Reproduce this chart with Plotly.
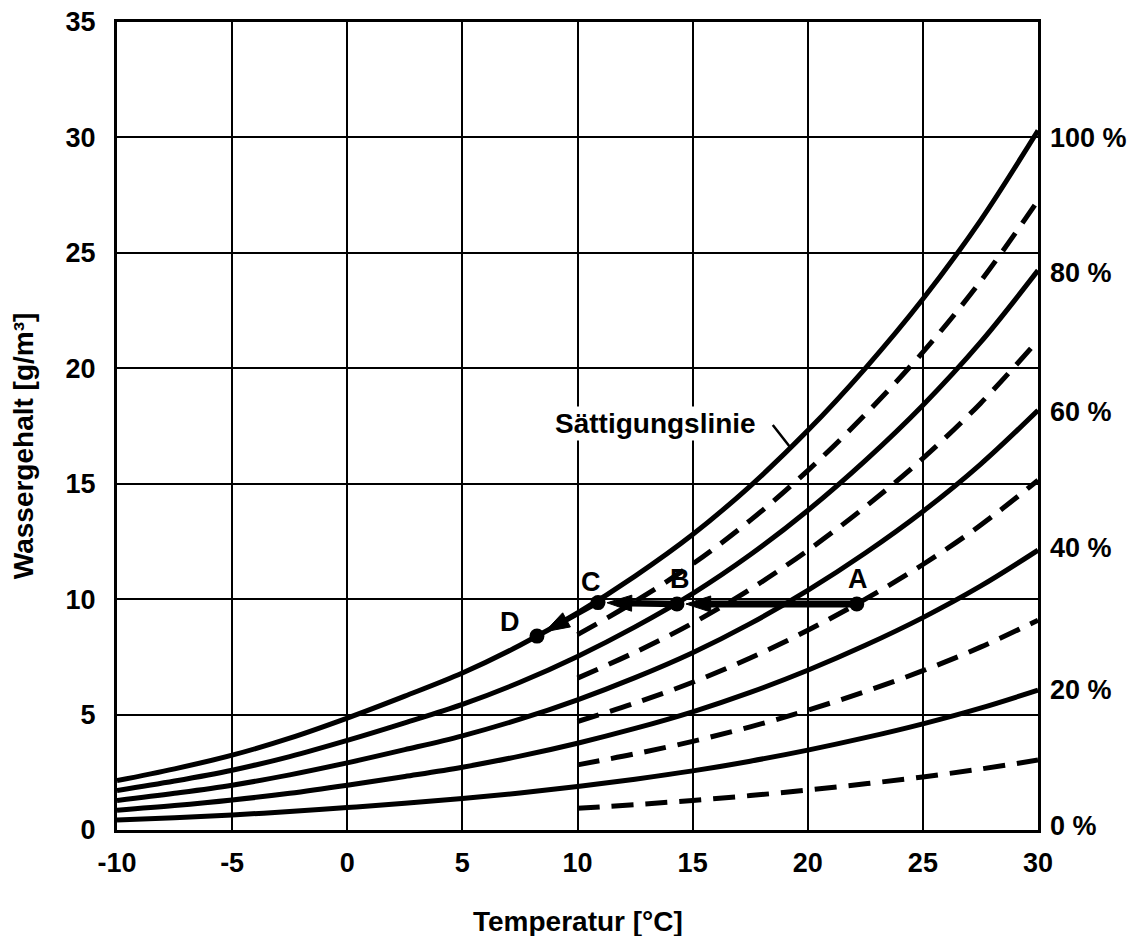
import plotly.graph_objects as go

temps_full = [-10, -7.5, -5, -2.5, 0, 2.5, 5, 7.5, 10, 12.5, 15, 17.5, 20, 22.5, 25, 27.5, 30]
temps_half = [10, 12.5, 15, 17.5, 20, 22.5, 25, 27.5, 30]

rh100 = [2.14, 2.65, 3.24, 3.98, 4.85, 5.80, 6.80, 8.00, 9.40, 11.0, 12.8, 14.9, 17.3, 20.0, 23.0, 26.4, 30.3]
rh80 = [1.71, 2.12, 2.59, 3.18, 3.88, 4.64, 5.44, 6.40, 7.52, 8.80, 10.24, 11.92, 13.84, 16.0, 18.4, 21.12, 24.24]
rh60 = [1.28, 1.59, 1.94, 2.39, 2.91, 3.48, 4.08, 4.80, 5.64, 6.60, 7.68, 8.94, 10.38, 12.0, 13.8, 15.84, 18.18]
rh40 = [0.86, 1.06, 1.30, 1.59, 1.94, 2.32, 2.72, 3.20, 3.76, 4.40, 5.12, 5.96, 6.92, 8.0, 9.2, 10.56, 12.12]
rh20 = [0.43, 0.53, 0.65, 0.80, 0.97, 1.16, 1.36, 1.60, 1.88, 2.20, 2.56, 2.98, 3.46, 4.0, 4.6, 5.28, 6.06]

rh90 = [8.46, 9.90, 11.52, 13.41, 15.57, 18.0, 20.7, 23.76, 27.27]
rh70 = [6.58, 7.70, 8.96, 10.43, 12.11, 14.0, 16.1, 18.48, 21.21]
rh50 = [4.70, 5.50, 6.40, 7.45, 8.65, 10.0, 11.5, 13.2, 15.15]
rh30 = [2.82, 3.30, 3.84, 4.47, 5.19, 6.0, 6.9, 7.92, 9.09]
rh10 = [0.94, 1.10, 1.28, 1.49, 1.73, 2.0, 2.3, 2.64, 3.03]

right_labels = ["100 %", "80 %", "60 %", "40 %", "20 %", "0 %"]
right_label_y = [30.1, 24.25, 18.25, 12.35, 6.2, 0.3]

point_names = ["A", "B", "C", "D"]
point_x = [22.13, 14.32, 10.89, 8.24]
point_y = [9.79, 9.79, 9.85, 8.40]
label_x = [22.18, 14.45, 10.58, 7.07]
label_y = [11.0, 11.0, 10.87, 9.14]

# arrows: from index, to index, line width
arrow_from = [0, 1, 2]
arrow_to = [1, 2, 3]
arrow_width = [7, 6.5, 5]

x_ticks = [-10, -5, 0, 5, 10, 15, 20, 25, 30]
y_ticks = [0, 5, 10, 15, 20, 25, 30, 35]

FONT = "Liberation Sans, Arial, sans-serif"
TICK_SIZE = 27
TITLE_SIZE = 28

fig = go.Figure()

for ys in [rh100, rh80, rh60, rh40, rh20]:
    fig.add_trace(go.Scatter(x=temps_full, y=ys, mode="lines",
                             line=dict(color="black", width=5, shape="spline"),
                             showlegend=False, hoverinfo="skip"))
for ys in [rh90, rh70, rh50, rh30, rh10]:
    fig.add_trace(go.Scatter(x=temps_half, y=ys, mode="lines",
                             line=dict(color="black", width=5, shape="spline", dash="22px,12px"),
                             showlegend=False, hoverinfo="skip"))

for s, e, w in zip(arrow_from, arrow_to, arrow_width):
    fig.add_trace(go.Scatter(x=[point_x[s], point_x[e]], y=[point_y[s], point_y[e]],
                             mode="lines+markers",
                             line=dict(color="black", width=w),
                             marker=dict(symbol=["circle", "arrow"], size=[0, 26],
                                         angleref="previous", standoff=[0, 9],
                                         color="black", opacity=1,
                                         line=dict(width=1, color="black")),
                             showlegend=False, hoverinfo="skip"))

fig.add_trace(go.Scatter(x=point_x, y=point_y, mode="markers",
                         marker=dict(color="black", size=15, line=dict(width=0)),
                         showlegend=False, hoverinfo="skip"))

annotations = []
for n, lx, ly in zip(point_names, label_x, label_y):
    annotations.append(dict(x=lx, y=ly, xref="x", yref="y", text="<b>%s</b>" % n,
                            showarrow=False, yshift=-3,
                            font=dict(family=FONT, size=TICK_SIZE, color="black")))
for t, ly in zip(right_labels, right_label_y):
    annotations.append(dict(x=1.0, y=ly, xref="paper", yref="y", text="<b>%s</b>" % t,
                            showarrow=False, xanchor="left", xshift=10, yshift=-3,
                            font=dict(family=FONT, size=TICK_SIZE, color="black")))
annotations.append(dict(x=13.38, y=17.73, xref="x", yref="y", text="<b>Sättigungslinie</b>",
                        showarrow=False, bgcolor="white", yshift=-3,
                        font=dict(family=FONT, size=TITLE_SIZE, color="black")))
annotations.append(dict(x=19.22, y=16.6, ax=18.43, ay=17.61, xref="x", yref="y",
                        axref="x", ayref="y", text="", showarrow=True, arrowhead=0,
                        arrowwidth=2.5, arrowcolor="black"))
# axis titles
annotations.append(dict(x=0.5, y=0, xref="paper", yref="paper", text="<b>Temperatur [°C]</b>",
                        showarrow=False, yanchor="middle", yshift=-91,
                        font=dict(family=FONT, size=TITLE_SIZE, color="black")))
annotations.append(dict(x=0, y=0.475, xref="paper", yref="paper", text="<b>Wassergehalt [g/m³]</b>",
                        showarrow=False, textangle=-90, xanchor="center", yanchor="middle",
                        xshift=-94,
                        font=dict(family=FONT, size=TITLE_SIZE, color="black")))

fig.update_layout(
    width=1141, height=936,
    margin=dict(l=109, r=111, t=14, b=114),
    plot_bgcolor="white", paper_bgcolor="white",
    font=dict(family=FONT, size=TICK_SIZE, color="black"),
    annotations=annotations,
)
fig.update_xaxes(range=[-10, 30], tickvals=x_ticks, ticktext=["<b>%d</b>" % v for v in x_ticks],
                 showgrid=True, gridcolor="black", gridwidth=2,
                 showline=True, linecolor="black", linewidth=3, mirror=True,
                 ticks="", zeroline=False, ticklabelstandoff=7, automargin=False,
                 ticklabeloverflow="allow", tickfont=dict(size=TICK_SIZE))
fig.update_yaxes(range=[0, 35], tickvals=y_ticks, ticktext=["<b>%d</b>" % v for v in y_ticks],
                 showgrid=True, gridcolor="black", gridwidth=2,
                 showline=True, linecolor="black", linewidth=3, mirror=True,
                 ticks="", zeroline=False, ticklabelstandoff=13, automargin=False,
                 ticklabeloverflow="allow", tickfont=dict(size=TICK_SIZE))

fig.write_html("out.html")
